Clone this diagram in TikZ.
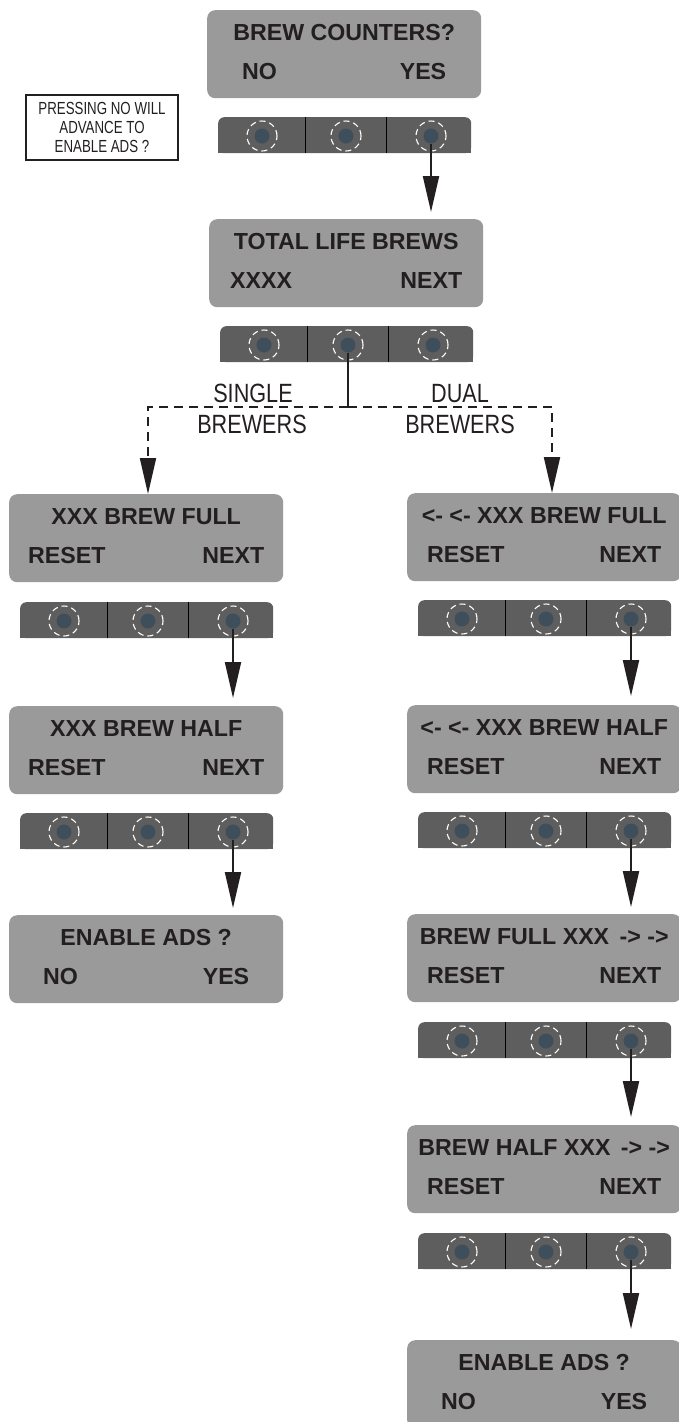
\documentclass[tikz,border=0pt]{standalone}
\usepackage{fontspec}
\setmainfont{Liberation Sans}
\newfontfamily\condfont{Liberation Sans}[FakeStretch=0.82]
\newfontfamily\notefont{Liberation Sans}[FakeStretch=0.76]
\usetikzlibrary{arrows.meta,calc}
\definecolor{dispcol}{HTML}{9A9A9A}
\definecolor{barcol}{HTML}{5E5E5F}
\definecolor{dotcol}{HTML}{3E4F5B}
\definecolor{inkcol}{HTML}{231F20}
\tikzset{
  disp/.style={fill=dispcol, rounded corners=8pt, minimum width=274pt, minimum height=88pt, inner sep=0pt, anchor=north west},
  barshape/.style={fill=barcol, rounded corners=6pt, minimum width=253pt, minimum height=36pt, inner sep=0pt, anchor=north west},
  ttl/.style={font=\fontsize{23.2}{28}\selectfont\bfseries, text=inkcol, inner sep=0pt, anchor=base},
  btn/.style={circle, fill=dotcol, minimum size=15pt, inner sep=0pt},
  ring/.style={draw=white, line width=1.1pt, dash pattern=on 6pt off 4pt},
  divider/.style={draw=black, line width=1pt},
  flow/.style={draw=inkcol, line width=2pt, -{Triangle[length=36pt,width=16pt]}},
  brlabel/.style={font=\condfont\fontsize{26.4}{30}\selectfont, text=inkcol, inner sep=0pt, anchor=base},
  notebox/.style={draw=inkcol, line width=2pt, minimum width=152pt, minimum height=65pt, align=center, inner sep=0pt, font=\notefont\fontsize{17.5}{19}\selectfont, text=inkcol}
}
% display panel: name, x, y, title, left word, right word, inset
\newcommand\dpanel[7]{%
  \node[disp] (#1) at (#2,#3) {};
  \node[ttl] (#1t) at ([yshift=-30.5pt]#1.north) {#4};
  \node[ttl, anchor=base west] (#1l) at ([xshift=#7pt, yshift=-69.5pt]#1.north west) {#5};
  \node[ttl, anchor=base east] (#1r) at ([xshift=-#7pt, yshift=-69.5pt]#1.north east) {#6};
}
% button bar: name, x, y
\newcommand\btnbar[3]{%
  \node[barshape] (#1) at (#2,#3) {};
  \fill[barcol] (#1.south west) rectangle (#1.east);
  \draw[divider] ([xshift=87pt]#1.north west) -- ([xshift=87pt]#1.south west);
  \draw[divider] ([xshift=168pt]#1.north west) -- ([xshift=168pt]#1.south west);
  \foreach \i/\dx in {a/44,b/128,c/213}{
    \node[btn] (#1\i) at ([xshift=\dx pt, yshift=-19pt]#1.north west) {};
    \draw[ring] (#1\i) circle (15pt);
  }
}
\begin{document}
\begin{tikzpicture}[x=1pt,y=-1pt]
\useasboundingbox (0,0) rectangle (678,1422);

% top
\dpanel{d1}{207}{10}{BREW COUNTERS?}{NO}{YES}{35}
\btnbar{b1}{218}{117}
\node[notebox] (note) at (102,127.5) {PRESSING NO WILL\\ADVANCE TO\\ENABLE ADS ?};

\dpanel{d2}{209}{219}{TOTAL LIFE BREWS}{XXXX}{NEXT}{21}
\btnbar{b2}{220}{326}

% left column
\dpanel{d3}{9}{494}{XXX BREW FULL}{RESET}{NEXT}{19}
\btnbar{b3}{20}{602}
\dpanel{d4}{9}{706}{XXX BREW HALF}{RESET}{NEXT}{19}
\btnbar{b4}{20}{813}
\dpanel{d5}{9}{915}{ENABLE ADS ?}{NO}{YES}{34}

% right column
\dpanel{d6}{407}{493}{<- <- XXX BREW FULL}{RESET}{NEXT}{20}
\btnbar{b6}{418}{600}
\dpanel{d7}{407}{705}{<- <- XXX BREW HALF}{RESET}{NEXT}{20}
\btnbar{b7}{418}{812}
\dpanel{d8}{407}{914}{BREW FULL XXX\hspace{0.45em}-> ->}{RESET}{NEXT}{20}
\btnbar{b8}{418}{1022}
\dpanel{d9}{407}{1125}{BREW HALF XXX\hspace{0.45em}-> ->}{RESET}{NEXT}{20}
\btnbar{b9}{418}{1233}
\dpanel{d10}{407}{1340}{ENABLE ADS ?}{NO}{YES}{34}

% solid arrows
\draw[flow, shorten >=7pt] (b1c.south) -- (b1c |- d2.north);
\draw[flow, shorten >=8pt] (b3c.south) -- (b3c |- d4.north);
\draw[flow, shorten >=7pt] (b4c.south) -- (b4c |- d5.north);
\draw[flow, shorten >=9pt] (b6c.south) -- (b6c |- d7.north);
\draw[flow, shorten >=7pt] (b7c.south) -- (b7c |- d8.north);
\draw[flow, shorten >=8pt] (b8c.south) -- (b8c |- d9.north);
\draw[flow, shorten >=11pt] (b9c.south) -- (b9c |- d10.north);

% branch
\path (b2b) ++(0,62) coordinate (split);
\coordinate (lj) at (148,407);
\coordinate (rj) at (552,407);
\draw[draw=inkcol, line width=2pt] (b2b.south) -- (split);
\draw[flow, dash pattern=on 9pt off 6pt] (split) -- (lj) -- (lj |- d3.north);
\draw[flow, dash pattern=on 9pt off 6pt] (split) -- (rj) -- (rj |- d6.north);

\node[brlabel] (single) at (253,402) {SINGLE};
\node[brlabel] (sbrew) at (252,433) {BREWERS};
\node[brlabel] (dual) at (460,402) {DUAL};
\node[brlabel] (dbrew) at (460,433) {BREWERS};
\end{tikzpicture}
\end{document}
